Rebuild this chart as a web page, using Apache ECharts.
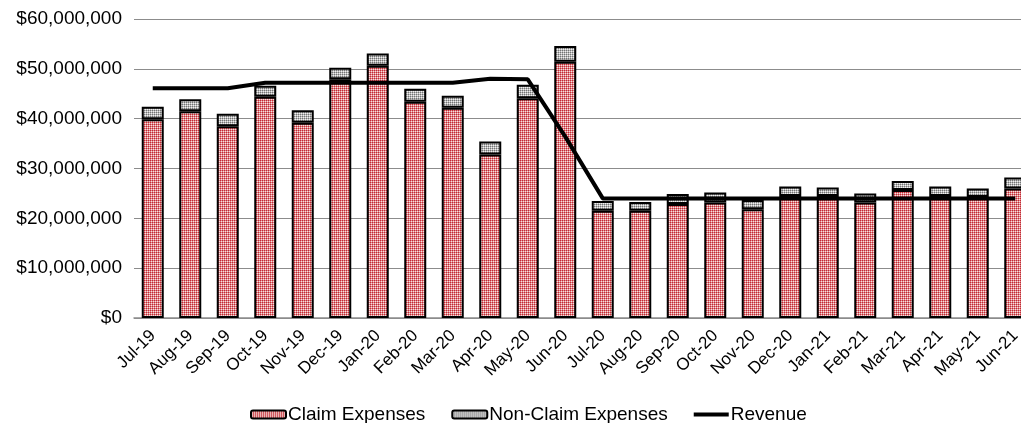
<!DOCTYPE html>
<html>
<head>
<meta charset="utf-8">
<script src="https://cdn.jsdelivr.net/npm/echarts@6/dist/echarts.min.js"></script>
<style>
html,body{margin:0;padding:0;background:#fff;overflow:hidden;}
#chart{width:1040px;height:423px;}
</style>
</head>
<body>
<div id="chart"></div>
<script>
const categories = ['Jul-19','Aug-19','Sep-19','Oct-19','Nov-19','Dec-19','Jan-20','Feb-20','Mar-20','Apr-20','May-20','Jun-20',
  'Jul-20','Aug-20','Sep-20','Oct-20','Nov-20','Dec-20','Jan-21','Feb-21','Mar-21','Apr-21','May-21','Jun-21'];
const claimExpenses = [39900000,41500000,38500000,44400000,39200000,47900000,50600000,43400000,42200000,32800000,44100000,51400000,
  21500000,21500000,22900000,23200000,21800000,24500000,24500000,23200000,25700000,24500000,24300000,26000000];
const totalExpenses = [42400000,43900000,41000000,46600000,41700000,50200000,53100000,46000000,44600000,35400000,46800000,54600000,
  23500000,23300000,24900000,25200000,23700000,26400000,26200000,25000000,27500000,26400000,26000000,28200000];
const nonClaimExpenses = totalExpenses.map((t, i) => t - claimExpenses[i]);
const revenue = [46100000,46100000,46100000,47200000,47200000,47200000,47200000,47200000,47200000,48000000,47900000,36400000,
  24000000,24000000,24000000,24000000,24000000,24000000,24000000,24000000,24000000,24000000,24000000,24000000];
const yTicks = { min: 0, max: 60000000, interval: 10000000 };

function makePattern(dark, light, white) {
  const c = document.createElement('canvas');
  c.width = 4; c.height = 4;
  const ctx = c.getContext('2d');
  const map = [
    [dark, light, dark, light],
    [light, white, light, white],
    [dark, light, dark, light],
    [light, white, light, white]
  ];
  for (let y = 0; y < 4; y++) for (let x = 0; x < 4; x++) {
    ctx.fillStyle = map[y][x];
    ctx.fillRect(x, y, 1, 1);
  }
  return { image: c, repeat: 'repeat' };
}
const redPattern = makePattern('#c42a34', '#dd8487', '#f8dede');
const grayPattern = makePattern('#747474', '#b8b8b8', '#f0f0f0');

const font = 'Liberation Sans, Arial, sans-serif';
const chart = echarts.init(document.getElementById('chart'), null, { renderer: 'canvas' });
chart.setOption({
  animation: false,
  textStyle: { fontFamily: font, color: '#000' },
  grid: { left: 134, top: 19, right: 6, bottom: 105, containLabel: false },
  legend: {
    top: 400, left: 245,
    itemWidth: 35, itemHeight: 8, itemGap: 26,
    textStyle: { fontFamily: font, fontSize: 19, color: '#000', padding: [0, 0, 0, -3] },
    data: [
      { name: 'Claim Expenses' },
      { name: 'Non-Claim Expenses' },
      { name: 'Revenue', icon: 'path://M0,0L35,0L35,4L0,4Z', itemStyle: { color: '#000' } }
    ]
  },
  xAxis: {
    type: 'category',
    data: categories,
    axisLine: { lineStyle: { color: '#8c8c8c', width: 1.5 } },
    axisTick: { show: false },
    axisLabel: { rotate: 45, fontSize: 17, color: '#000', fontFamily: font, margin: 15, interval: 0 }
  },
  yAxis: {
    type: 'value',
    min: yTicks.min, max: yTicks.max, interval: yTicks.interval,
    axisLine: { show: false },
    axisTick: { show: false },
    splitLine: { lineStyle: { color: '#8c8c8c', width: 1.2 } },
    axisLabel: {
      fontSize: 19, color: '#000', fontFamily: font, margin: 12,
      formatter: v => '$' + v.toLocaleString('en-US')
    }
  },
  series: [
    {
      name: 'Claim Expenses', type: 'bar', stack: 'exp', data: claimExpenses,
      barWidth: 22,
      itemStyle: { color: redPattern, borderColor: '#000', borderWidth: 2 }
    },
    {
      name: 'Non-Claim Expenses', type: 'bar', stack: 'exp', data: nonClaimExpenses,
      barWidth: 22,
      itemStyle: { color: grayPattern, borderColor: '#000', borderWidth: 2 }
    },
    {
      name: 'Revenue', type: 'line', data: revenue,
      symbol: 'none', showSymbol: false,
      lineStyle: { color: '#000', width: 4 },
      itemStyle: { color: '#000' },
      z: 5
    }
  ]
});
</script>
</body>
</html>
